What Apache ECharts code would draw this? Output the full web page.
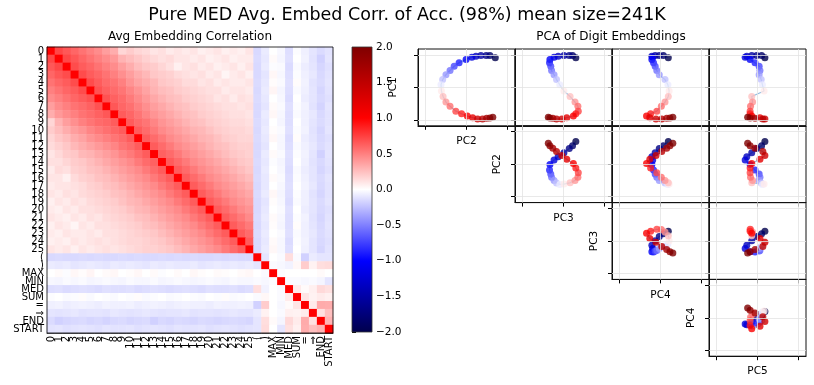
<!DOCTYPE html>
<html>
<head>
<meta charset="utf-8">
<script src="https://cdn.jsdelivr.net/npm/echarts@6/dist/echarts.min.js"></script>
<style>
  html, body { margin: 0; padding: 0; background: #fff; }
  #chart { width: 814px; height: 385px; }
</style>
</head>
<body>
<div id="chart"></div>
<script>
// matplotlib "seismic"
const seismic = ['#00004c', '#0000ff', '#ffffff', '#ff0000', '#7f0000'];

const tokens = ['0','1','2','3','4','5','6','7','8','9','10','11','12','13','14','15','16','17','18','19',
  '20','21','22','23','24','25','(',')','MAX','MIN','MED','SUM','=','⇒','END','START'];

// lower triangle of the correlation matrix, row i holds columns 0..i
const corrLower = [
  [1],
  [.72,1],
  [.66,.72,1],
  [.6,.66,.7,1],
  [.55,.6,.64,.7,1],
  [.5,.55,.6,.64,.7,1],
  [.45,.5,.55,.6,.64,.68,1],
  [.38,.45,.5,.55,.58,.62,.68,1],
  [.32,.4,.45,.5,.55,.58,.62,.66,1],
  [.16,.3,.38,.44,.5,.54,.58,.6,.64,1],
  [.2,.26,.32,.38,.42,.48,.52,.56,.6,.64,1],
  [.16,.22,.26,.32,.36,.42,.46,.5,.54,.58,.64,1],
  [.14,.18,.22,.28,.32,.36,.4,.44,.48,.54,.58,.64,1],
  [.1,.15,.2,.22,.28,.3,.34,.38,.42,.48,.52,.58,.64,1],
  [.12,.12,.16,.2,.22,.26,.3,.34,.38,.42,.46,.52,.58,.62,1],
  [.08,.14,.12,.18,.2,.24,.26,.3,.34,.38,.42,.46,.52,.58,.64,1],
  [.1,.1,.06,.14,.18,.2,.24,.26,.3,.34,.38,.42,.46,.52,.58,.64,1],
  [.08,.1,.1,.12,.14,.18,.2,.24,.26,.3,.34,.38,.42,.46,.52,.58,.64,1],
  [.1,.08,.12,.1,.14,.16,.18,.2,.24,.26,.3,.34,.38,.42,.46,.52,.58,.64,1],
  [.06,.1,.08,.12,.1,.14,.16,.18,.2,.24,.28,.3,.34,.38,.42,.46,.52,.58,.64,1],
  [.08,.06,.1,.08,.12,.12,.14,.16,.18,.2,.24,.28,.3,.34,.38,.42,.46,.52,.58,.64,1],
  [.1,.08,.06,.1,.08,.12,.1,.14,.16,.18,.2,.24,.26,.3,.34,.38,.42,.46,.52,.58,.64,1],
  [.06,.1,.08,.04,.1,.08,.12,.12,.14,.16,.18,.2,.24,.26,.3,.34,.38,.42,.46,.52,.58,.64,1],
  [.08,.06,.1,.08,.08,.1,.08,.12,.12,.14,.16,.18,.2,.22,.26,.3,.34,.38,.42,.46,.52,.58,.64,1],
  [.06,.08,.06,.1,.08,.1,.12,.1,.12,.14,.16,.16,.18,.2,.22,.26,.3,.34,.38,.42,.46,.52,.58,.64,1],
  [.1,.08,.1,.06,.1,.08,.1,.12,.1,.12,.14,.16,.18,.18,.2,.22,.26,.3,.34,.38,.42,.46,.52,.58,.64,1],
  // (
  [-.15,-.14,-.15,-.15,-.14,-.15,-.14,-.15,-.15,-.14,-.15,-.14,-.15,-.15,-.14,-.15,-.14,-.15,-.14,-.15,-.15,-.14,-.15,-.14,-.15,-.15,
   1],
  // )
  [-.08,-.09,-.08,-.1,-.09,-.08,-.09,-.1,-.08,-.09,-.08,-.09,-.1,-.08,-.09,-.08,-.09,-.09,-.08,-.1,-.09,-.08,-.09,-.08,-.09,-.08,
   -.1,1],
  // MAX
  [0,.02,-.01,.03,.01,.04,0,.02,.03,0,.01,.03,0,.02,-.01,0,.02,0,.03,.01,0,.02,.01,0,.02,.03,
   0,-.02,1],
  // MIN
  [-.03,-.04,-.02,-.03,-.02,-.04,-.03,-.02,-.03,-.04,-.02,-.03,-.03,-.02,-.04,-.03,-.02,-.03,-.04,-.03,-.02,-.03,-.04,-.02,-.03,-.03,
   -.02,-.03,-.01,1],
  // MED
  [-.13,-.12,-.14,-.13,-.12,-.13,-.14,-.12,-.13,-.13,-.12,-.14,-.13,-.12,-.13,-.14,-.13,-.12,-.13,-.14,-.12,-.13,-.13,-.12,-.14,-.13,
   .13,-.05,0,-.02,1],
  // SUM
  [-.01,0,-.02,-.01,.01,-.02,0,-.01,-.02,0,-.01,.01,-.02,-.01,0,-.02,-.01,0,-.01,-.02,0,-.01,.01,-.02,-.01,0,
   -.02,.03,0,-.02,.08,1],
  // =
  [-.06,-.05,-.07,-.06,-.05,-.06,-.07,-.05,-.06,-.06,-.05,-.07,-.06,-.05,-.06,-.07,-.06,-.05,-.06,-.06,-.07,-.05,-.06,-.06,-.05,-.06,
   -.18,.2,0,-.03,.02,.1,1],
  // ⇒
  [-.1,-.11,-.1,-.09,-.11,-.1,-.1,-.11,-.09,-.1,-.11,-.1,-.09,-.1,-.11,-.1,-.1,-.09,-.11,-.1,-.1,-.11,-.1,-.09,-.1,-.1,
   -.08,.05,0,-.02,.06,.05,.08,1],
  // END
  [-.14,-.18,-.16,-.15,-.14,-.16,-.15,-.17,-.15,-.14,-.16,-.15,-.14,-.18,-.15,-.16,-.14,-.15,-.16,-.14,-.15,-.16,-.15,-.14,-.15,-.16,
   -.1,.13,.02,-.04,.15,.08,.33,.12,1],
  // START
  [-.11,-.1,-.12,-.11,-.1,-.11,-.12,-.1,-.11,-.11,-.1,-.12,-.11,-.1,-.11,-.12,-.1,-.11,-.11,-.1,-.12,-.11,-.1,-.11,-.12,-.11,
   -.1,.14,0,-.1,.12,.06,.32,.25,.3,1]
];

// PCA coordinates of digit embeddings 0..25
const pc1 = [0.91,0.98,0.98,0.98,0.96,0.93,0.86,0.76,0.65,0.52,0.39,0.24,0.08,-0.11,-0.28,-0.45,-0.58,-0.73,-0.81,-0.88,-0.93,-0.97,-0.97,-0.95,-0.94,-0.92];
const pc2 = [0.70,0.57,0.48,0.35,0.23,0.13,-0.01,-0.18,-0.30,-0.40,-0.50,-0.58,-0.62,-0.61,-0.57,-0.50,-0.40,-0.26,-0.12,0.02,0.15,0.27,0.39,0.49,0.57,0.64];
const pc3 = [0.30,0.22,0.14,0.01,-0.13,-0.23,-0.33,-0.34,-0.31,-0.29,-0.23,-0.17,-0.09,0.01,0.16,0.28,0.35,0.36,0.30,0.24,0.08,-0.04,-0.17,-0.26,-0.33,-0.37];
const pc4 = [0.19,0.07,-0.03,-0.13,-0.21,-0.19,-0.21,-0.17,-0.13,-0.09,-0.03,0.11,0.18,0.21,0.19,0.11,0.02,-0.09,-0.24,-0.34,-0.26,-0.11,0.03,0.15,0.23,0.30];
const pc5 = [0.18,0.10,-0.02,-0.14,-0.26,-0.30,-0.18,-0.06,0.04,0.06,0.04,0.09,0.12,0.16,-0.14,-0.12,-0.17,-0.18,-0.18,-0.14,0.06,0.18,0.13,-0.06,-0.18,-0.24];
const pcs = [pc1, pc2, pc3, pc4, pc5];

const pcaTicks = [-1, 0, 1];

const font = 'DejaVu Sans';

// heatmap cells, mirror the lower triangle
const heatData = [];
for (let i = 0; i < tokens.length; i++) {
  for (let j = 0; j < tokens.length; j++) {
    const v = i >= j ? corrLower[i][j] : corrLower[j][i];
    heatData.push([j, i, v]);
  }
}

const grids = [
  { left: 47, top: 47, width: 286, height: 286 },
  { left: 352, top: 47, width: 20, height: 285 }
];
const xAxes = [
  {
    type: 'category', gridIndex: 0, data: tokens,
    axisLine: { lineStyle: { color: '#000', width: 0.8 } },
    axisTick: { alignWithLabel: true, length: 4, lineStyle: { color: '#000' } },
    axisLabel: { interval: 0, rotate: 90, fontSize: 10, color: '#000', margin: 3, fontFamily: font },
    splitLine: { show: false }
  },
  { type: 'value', gridIndex: 1, show: false, min: 0, max: 1 }
];
const yAxes = [
  {
    type: 'category', gridIndex: 0, data: tokens, inverse: true,
    axisLine: { lineStyle: { color: '#000', width: 0.8 } },
    axisTick: { alignWithLabel: true, length: 4, lineStyle: { color: '#000' } },
    axisLabel: { interval: 0, fontSize: 10, color: '#000', margin: 3, fontFamily: font },
    splitLine: { show: false }
  },
  {
    type: 'value', gridIndex: 1, position: 'right', min: -2, max: 2, interval: 0.5,
    axisLine: { show: false },
    axisTick: { show: true, length: 4, lineStyle: { color: '#000' } },
    axisLabel: {
      fontSize: 10.5, color: '#000', margin: 4, fontFamily: font,
      formatter: v => v.toFixed(1).replace('-', '\u2212')
    },
    splitLine: { show: false }
  }
];
const series = [
  {
    type: 'heatmap', xAxisIndex: 0, yAxisIndex: 0, data: heatData,
    progressive: 0, itemStyle: { borderWidth: 0 }
  }
];

// pair plot of PCs, upper triangle
const scatterIdx = [];
let g = 2;
for (let r = 0; r < 4; r++) {
  for (let c = r; c < 4; c++) {
    grids.push({
      left: 418 + 97 * c, top: 49 + 76.8 * r, width: 97, height: 76.8,
      show: true, borderColor: '#111', borderWidth: 1, backgroundColor: 'transparent'
    });
    const diag = r === c;
    xAxes.push({
      type: 'value', gridIndex: g, min: -1.18, max: 1.18,
      axisLine: { show: true, onZero: false, lineStyle: { color: '#111', width: 1 } },
      axisTick: { show: true, customValues: pcaTicks, length: 4, lineStyle: { color: '#000', width: 1 } },
      axisLabel: { show: true, customValues: pcaTicks, formatter: () => '' },
      splitLine: { show: false },
      name: diag ? 'PC' + (c + 2) : '', nameLocation: 'middle', nameGap: 10,
      nameTextStyle: { fontSize: 10.5, color: '#000', fontFamily: font, verticalAlign: 'top' }
    });
    yAxes.push({
      type: 'value', gridIndex: g, min: -1.18, max: 1.18,
      axisLine: { show: true, onZero: false, lineStyle: { color: '#111', width: 1 } },
      axisTick: { show: true, customValues: pcaTicks, length: 4, lineStyle: { color: '#000', width: 1 } },
      axisLabel: { show: true, customValues: pcaTicks, formatter: () => '' },
      splitLine: { show: false },
      name: diag ? 'PC' + (r + 1) : '', nameLocation: 'middle', nameGap: r === 0 ? 19 : 11, nameRotate: 90,
      nameTextStyle: { fontSize: 10.5, color: '#000', fontFamily: font }
    });
    const xs = pcs[c + 1], ys = pcs[r];
    series.push({
      type: 'line', xAxisIndex: g, yAxisIndex: g, z: 2, silent: true,
      showSymbol: false, symbol: 'none',
      lineStyle: { color: '#93bde0', width: 1.2 },
      data: xs.map((x, k) => [x, ys[k]]),
      markLine: {
        silent: true, symbol: 'none', label: { show: false },
        lineStyle: { color: '#e3e3e3', width: 0.8, type: 'solid' },
        data: pcaTicks.map(t => ({ xAxis: t })).concat(pcaTicks.map(t => ({ yAxis: t })))
      }
    });
    scatterIdx.push(series.length);
    series.push({
      type: 'scatter', xAxisIndex: g, yAxisIndex: g, z: 3, symbolSize: 7,
      data: xs.map((x, k) => [x, ys[k], k])
    });
    g++;
  }
}

const chart = echarts.init(document.getElementById('chart'), null, { renderer: 'canvas' });
chart.setOption({
  animation: false,
  textStyle: { fontFamily: font },
  grid: grids,
  xAxis: xAxes,
  yAxis: yAxes,
  visualMap: [
    { type: 'continuous', show: false, min: -2, max: 2, dimension: 2, seriesIndex: 0, inRange: { color: seismic } },
    { type: 'continuous', show: false, min: 0, max: 25, dimension: 2, seriesIndex: scatterIdx, inRange: { color: seismic } }
  ],
  series: series,
  graphic: [
    {
      type: 'text', z: 100,
      style: { x: 407, y: 15, text: 'Pure MED Avg. Embed Corr. of Acc. (98%) mean size=241K',
        textAlign: 'center', textVerticalAlign: 'middle', fill: '#000', font: '17.5px "DejaVu Sans"' }
    },
    {
      type: 'text', z: 100,
      style: { x: 190, y: 37, text: 'Avg Embedding Correlation',
        textAlign: 'center', textVerticalAlign: 'middle', fill: '#000', font: '12px "DejaVu Sans"' }
    },
    {
      type: 'text', z: 100,
      style: { x: 611, y: 37, text: 'PCA of Digit Embeddings',
        textAlign: 'center', textVerticalAlign: 'middle', fill: '#000', font: '12px "DejaVu Sans"' }
    },
    {
      type: 'rect', z: 100, silent: true,
      shape: { x: 47, y: 47, width: 286, height: 286 },
      style: { fill: null, stroke: '#000', lineWidth: 0.8 }
    },
    {
      type: 'rect', z: 100, silent: true,
      shape: { x: 352, y: 47, width: 20, height: 285 },
      style: {
        stroke: '#333', lineWidth: 0.8,
        fill: new echarts.graphic.LinearGradient(0, 0, 0, 1, [
          { offset: 0, color: seismic[4] }, { offset: 0.25, color: seismic[3] },
          { offset: 0.5, color: seismic[2] }, { offset: 0.75, color: seismic[1] },
          { offset: 1, color: seismic[0] }
        ])
      }
    }
  ]
});
</script>
</body>
</html>
